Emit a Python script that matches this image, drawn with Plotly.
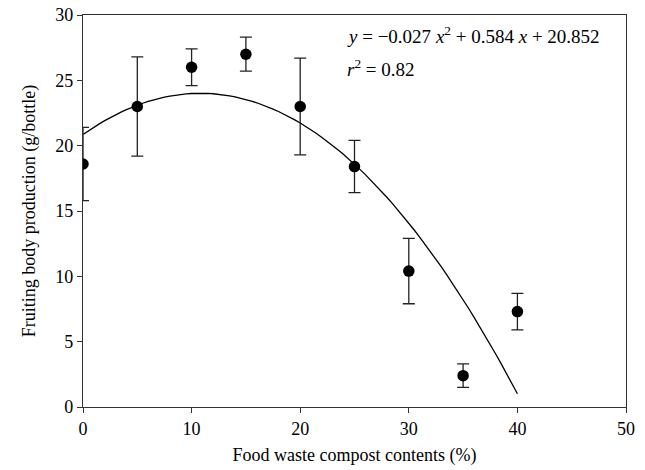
import plotly.graph_objects as go

# Data
compost_pct = [0, 5, 10, 15, 20, 25, 30, 35, 40]
production = [18.6, 23.0, 26.0, 27.0, 23.0, 18.4, 10.4, 2.4, 7.3]
error = [2.8, 3.8, 1.4, 1.3, 3.7, 2.0, 2.5, 0.9, 1.4]

# Fitted quadratic (coefficients shown on the chart)
coef_a, coef_b, coef_c = -0.027, 0.584, 20.852
fit_x = [i * 0.5 for i in range(0, 81)]
fit_y = [coef_a * x * x + coef_b * x + coef_c for x in fit_x]

x_ticks = [0, 10, 20, 30, 40, 50]
y_ticks = [0, 5, 10, 15, 20, 25, 30]

font = "Liberation Serif, Times New Roman, serif"

fig = go.Figure()
fig.add_trace(go.Scatter(
    x=fit_x, y=fit_y, mode="lines",
    line=dict(color="black", width=1.3), showlegend=False, hoverinfo="skip"))
fig.add_trace(go.Scatter(
    x=compost_pct, y=production, mode="markers",
    marker=dict(color="black", size=11.5),
    error_y=dict(type="data", array=error, visible=True, color="#222",
                 thickness=1.3, width=6),
    showlegend=False))

fig.add_annotation(
    x=0.482, y=28.45, xref="paper", yref="y", xanchor="left", yanchor="middle",
    text="<i>y</i> = \u22120.027 <i>x</i><sup>2</sup> + 0.584 <i>x</i> + 20.852",
    showarrow=False, font=dict(family=font, size=19, color="black"))
fig.add_annotation(
    x=0.482, y=25.95, xref="paper", yref="y", xanchor="left", yanchor="middle",
    text="<i>r</i><sup>2</sup> = 0.82",
    showarrow=False, font=dict(family=font, size=19, color="black"))

axis_common = dict(showline=True, linecolor="#333", linewidth=1.3, mirror=True,
                   ticks="outside", ticklen=5, tickcolor="#333", tickwidth=1.3,
                   showgrid=False, zeroline=False, automargin=False,
                   tickfont=dict(family=font, size=18, color="black"))

fig.update_xaxes(range=[0, 50], tickvals=x_ticks,
                 title=dict(text="Food waste compost contents (%)",
                            font=dict(family=font, size=18, color="black"), standoff=10),
                 **axis_common)
fig.update_yaxes(range=[0, 30], tickvals=y_ticks,
                 title=dict(text="Fruiting body production (g/bottle)",
                            font=dict(family=font, size=18, color="black"), standoff=14),
                 **axis_common)

fig.update_layout(
    width=645, height=470,
    margin=dict(l=83, r=19, t=15, b=63),
    plot_bgcolor="white", paper_bgcolor="white",
    font=dict(family=font, color="black"))

fig.write_html("out.html", config={"displayModeBar": False},
               post_script="document.body.style.margin='0';document.body.style.overflow='hidden';")
